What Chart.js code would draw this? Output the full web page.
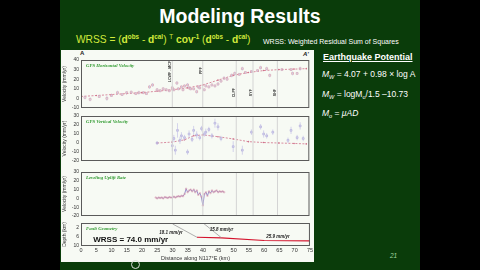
<!DOCTYPE html>
<html>
<head>
<meta charset="utf-8">
<script src="https://cdn.jsdelivr.net/npm/chart.js@4"></script>
<style>
body { margin: 0; background: #000; width: 480px; height: 270px; overflow: hidden; position: relative; font-family: "Liberation Sans", Arial, sans-serif; }
#slide { position: absolute; left: 60px; top: 0; width: 360px; height: 270px; background: #0a3c0a; }
#fig { position: absolute; left: 61px; top: 50px; width: 253px; height: 212px; background: #f7faf4; }
.t { position: absolute; white-space: nowrap; }
canvas { position: absolute; }
sup { font-size: 62%; vertical-align: 4px; }
sub { font-size: 65%; vertical-align: -2px; }
</style>
</head>
<body>
<div id="slide"></div>
<div id="fig"></div>

<div class="t" style="left:0;width:480px;top:5px;text-align:center;color:#fff;font-weight:bold;font-size:19.5px;">Modeling Results</div>
<div class="t" style="left:76px;top:33px;color:#d2ea3c;font-size:10.2px;">WRSS = (<b>d<sup>obs</sup></b> - <b>d<sup>cal</sup></b>) <sup>T</sup> <b>cov<sup>-1</sup></b> (<b>d<sup>obs</sup></b> - <b>d<sup>cal</sup></b>)</div>
<div class="t" style="left:263px;top:38px;color:#fff;font-size:7px;">WRSS: Weighted Residual Sum of Squares</div>

<div class="t" style="left:80px;top:50px;font-size:6px;font-weight:bold;color:#222;">A</div>
<div class="t" style="left:303px;top:51px;font-size:6px;font-weight:bold;font-style:italic;color:#222;">A'</div>

<div class="t" style="left:323px;top:52px;color:#fff;font-size:9px;font-weight:bold;text-decoration:underline;">Earthquake Potential</div>
<div class="t" style="left:322px;top:69px;color:#fff;font-size:8.5px;"><i>M<sub>W</sub></i> = 4.07 + 0.98 × log A</div>
<div class="t" style="left:322px;top:89px;color:#fff;font-size:8.5px;"><i>M<sub>W</sub></i> = logM<sub>o</sub>/1.5 –10.73</div>
<div class="t" style="left:322px;top:108px;color:#fff;font-size:8.5px;"><i>M<sub>o</sub></i> = <i>μAD</i></div>
<div class="t" style="left:390px;top:252px;color:#9fd59f;font-size:6.5px;font-style:italic;">21</div>
<div class="t" style="left:131px;top:260px;width:7px;height:7px;border:1px solid #ddd;border-radius:50%;"></div>

<canvas id="p1" width="252" height="58" style="left:62px;top:55px;"></canvas>
<canvas id="p2" width="252" height="55" style="left:62px;top:111px;"></canvas>
<canvas id="p3" width="252" height="54" style="left:62px;top:167px;"></canvas>
<canvas id="p4" width="252" height="44" style="left:62px;top:218px;"></canvas>

<script>
// GPS horizontal velocity (km along profile, mm/yr)
const gpsHKm = [1.3, 3, 6, 8.5, 10, 12, 13.5, 15, 16.5, 18,
    19, 20.5, 21.5, 22.5, 23.5, 25, 26, 27, 28, 29,
    30, 30.5, 31.5, 32, 33, 33.5, 34, 35, 35.5, 36,
    37, 38, 38.5, 39, 40.5, 41, 42, 43, 44, 45,
    46, 47, 48, 49.5, 50.5, 52, 53, 54, 56, 58,
    59, 61, 62, 66, 69, 69.5, 71, 72];
const gpsHVel = [1, -1, 2, 0, 3, 6, 4, 6, 6.5, 5,
    6, 6, 5, 12, 14, 9, 8, 10, 9, 8,
    11, 9, 16, 10, 12, 9, 13, 14, 11, 10,
    10, 7, 12, 11, 9, 13, 12, 14, 13, 15,
    18, 21, 20, 24, 26, 25, 31, 27, 28, 29,
    32, 31, 24, 30, 30, 26, 26, 31];
const gpsHErr = [2, 2, 1.5, 2.5, 1.5, 2, 1.5, 1.5, 1.5, 1.5,
    2, 1.5, 1.5, 2, 2, 1.5, 1.5, 1.5, 1.5, 1.5,
    2, 1.5, 2, 1.5, 1.5, 1.5, 1.5, 2, 1.5, 1.5,
    1.5, 2, 1.5, 1.5, 1.5, 1.5, 1.5, 1.5, 1.5, 2,
    1.5, 2, 1.5, 2, 2, 1.5, 2, 1.5, 1.5, 1.5,
    2, 2, 2, 1.5, 1.5, 2, 1.5, 2];
const hModelKm = [0, 5, 10, 15, 20, 25, 30, 35, 40, 45, 50, 55, 60, 65, 70, 74];
const hModelVel = [2, 3, 4, 5, 6, 7.5, 9, 11, 14, 19, 24, 27, 29, 30, 30.5, 31];

// GPS vertical velocity
const gpsVKm = [25, 30, 30.5, 31, 31.7, 32.5, 33, 34, 35, 35.5,
    36.5, 37, 38, 39, 39.6, 40.5, 41, 42, 43, 44,
    45, 46, 50, 53, 56, 59, 60, 61, 63, 68,
    69, 71, 72, 73];
const gpsVVel = [0, -3, 5, -8, 14, 3, 8, 6, -10, 10,
    4, 14, 9, 6, 16, 10, 12, 15, 8, 22,
    18, 5, -4, -8, 12, 18, 10, 8, 12, 3,
    14, 6, 19, 5];
const gpsVErr = [2, 6, 4, 5, 8, 4, 4, 3, 3, 4,
    3, 5, 4, 3, 3, 3, 4, 3, 3, 5,
    4, 3, 6, 5, 3, 3, 4, 3, 3, 3,
    4, 3, 4, 3];
const vModelKm = [25, 30, 34, 37, 40, 45, 50, 55, 60, 65, 70, 74];
const vModelVel = [0, 1, 3.5, 8, 9, 7, 4.5, 1.5, 0.5, 0, -0.5, -1];

// Leveling uplift rate
const levelKm = [24.5, 25, 25.5, 26, 26.5, 27, 27.5, 28, 28.5, 29,
    29.5, 30, 30.5, 31, 31.5, 32, 32.5, 33, 33.5, 34,
    34.5, 35, 35.5, 36, 36.5, 37, 37.5, 38, 38.5, 39,
    39.5, 40, 40.5, 41, 41.5, 42, 42.5, 43, 43.5, 44,
    44.5, 45, 45.5, 46, 46.5, 47];
const levelRate = [1, 0, 1, 0.5, 1, 0, 1.5, 1, 0.5, 1.5,
    1, 1, 2, 1, 2, 2.5, 2, 3, 2.5, 5,
    11, 7, 9, 10, 8, 10, 7, 9, 4, 6,
    2, -8, 5, 7, 3, 8, 6, 9, 7, 8,
    9, 7, 8, 7.5, 8, 7];

// Fault geometry (depth km)
const ramp1Km = [30, 38];
const ramp1Depth = [0.4, 6.2];
const ramp2Km = [40, 46];
const ramp2Depth = [0, 6.4];
const decolKm = [38, 46, 60, 75];
const decolDepth = [6.2, 6.5, 7.6, 7.8];
const slipKm = [29.5, 46, 64.5];
const slipDepth = [4.2, 2.9, 5.8];
const slipText = ["18.1 mm/yr", "15.8 mm/yr", "25.9 mm/yr"];

// faults crossing the profile
const faultKm = [30, 40, 51, 56.5, 64.5];
const faultNames = ["LCWF - MCF", "PPF", "CLPF", "SYF", "SHF"];
const faultLabelVel = [28, 29, 6, 6, 6];

function pairs(xs, ys) {
    return xs.map((x, i) => ({ x: x, y: ys[i] }));
}

function errorSegments(xs, ys, es) {
    let pts = [];
    xs.forEach((x, i) => {
        pts.push({ x: x, y: ys[i] - es[i] });
        pts.push({ x: x, y: ys[i] + es[i] });
        pts.push({ x: x, y: null });
    });
    return pts;
}

function faultLines(lo, hi) {
    let pts = [];
    faultKm.forEach(k => {
        pts.push({ x: k, y: lo });
        pts.push({ x: k, y: hi });
        pts.push({ x: k, y: null });
    });
    return pts;
}

// frame, panel title and text notes
const panelDeco = {
    id: "panelDeco",
    afterDatasetsDraw(chart, args, opts) {
        const { ctx, chartArea, scales } = chart;
        ctx.save();
        ctx.strokeStyle = "#5a5a5a";
        ctx.lineWidth = 1;
        ctx.strokeRect(chartArea.left + 0.5, chartArea.top + 0.5, chartArea.width - 1, chartArea.height - 1);
        if (opts.title) {
            ctx.font = 'italic bold 4.8px "Liberation Serif"';
            ctx.fillStyle = "#2f9a2f";
            ctx.textBaseline = "middle";
            ctx.fillText(opts.title, chartArea.left + 5, chartArea.top + 6);
        }
        (opts.notes || []).forEach(n => {
            const x = scales.x.getPixelForValue(n.x) + (n.dx || 0);
            const y = scales.y.getPixelForValue(n.y);
            ctx.save();
            ctx.translate(x, y);
            if (n.rot) ctx.rotate(n.rot);
            ctx.font = n.font;
            ctx.fillStyle = n.color || "#222";
            ctx.textAlign = "center";
            ctx.textBaseline = "middle";
            ctx.fillText(n.text, 0, 0);
            ctx.restore();
        });
        ctx.restore();
    }
};

const tickFont = { size: 5, family: "Liberation Sans" };

function yAxis(min, max, step, title, reverse) {
    return {
        min: min, max: max, reverse: !!reverse,
        afterFit: s => { s.width = 19; },
        grid: { display: false, tickLength: 0 },
        border: { display: false },
        ticks: { stepSize: step, font: tickFont, color: "#333", padding: 2 },
        title: { display: true, text: title, font: { size: 5, family: "Liberation Sans" }, color: "#333", padding: 0 }
    };
}

function xAxis(show) {
    return {
        type: "linear", min: 0, max: 75, display: show,
        afterFit: s => { if (show) s.height = 16; },
        grid: { display: false, tickLength: 0 },
        border: { display: false },
        ticks: { stepSize: 5, font: { size: 5.5, family: "Liberation Sans" }, color: "#333", padding: 1, maxRotation: 0 },
        title: { display: true, text: "Distance along N117°E (km)", font: { size: 5.5, family: "Liberation Sans" }, color: "#333", padding: 0 }
    };
}

function baseOptions(ymin, ymax, ystep, ytitle, title, notes, showX, reverse) {
    return {
        responsive: false,
        animation: false,
        layout: { padding: { top: 4, bottom: showX ? 0 : 4, right: 4, left: 0 } },
        plugins: {
            legend: { display: false },
            tooltip: { enabled: false },
            panelDeco: { title: title, notes: notes }
        },
        scales: {
            x: xAxis(showX),
            y: yAxis(ymin, ymax, ystep, ytitle, reverse)
        }
    };
}

const faultDataset = (lo, hi) => ({
    data: faultLines(lo, hi), showLine: true, pointRadius: 0,
    borderColor: "#d4d4d4", borderWidth: 1
});

// Panel 1
let faultNotes = faultKm.map((k, i) => ({
    x: k, y: faultLabelVel[i], dx: -2, rot: -Math.PI / 2,
    text: faultNames[i], font: 'bold 3.6px "Liberation Sans"', color: "#333"
}));
new Chart(document.getElementById("p1").getContext("2d"), {
    type: "scatter",
    data: {
        datasets: [
            faultDataset(-10, 40),
            { data: errorSegments(gpsHKm, gpsHVel, gpsHErr), showLine: true, pointRadius: 0, borderColor: "#c9c3dc", borderWidth: 0.7 },
            { data: pairs(gpsHKm, gpsHVel), pointStyle: "rect", pointRadius: 1.3, borderColor: "#d895a8", backgroundColor: "rgba(255,255,255,0)", borderWidth: 0.7 },
            { data: pairs(hModelKm, hModelVel), showLine: true, pointRadius: 0.8, pointBackgroundColor: "#d0708a", pointBorderWidth: 0, borderColor: "#d0708a", borderWidth: 0.8, borderDash: [2, 1.5] }
        ]
    },
    options: baseOptions(-10, 40, 10, "Velocity (mm/yr)", "GPS Horizontal Velocity", faultNotes, false),
    plugins: [panelDeco]
});

// Panel 2
new Chart(document.getElementById("p2").getContext("2d"), {
    type: "scatter",
    data: {
        datasets: [
            faultDataset(-20, 30),
            { data: errorSegments(gpsVKm, gpsVVel, gpsVErr), showLine: true, pointRadius: 0, borderColor: "#c4c2e6", borderWidth: 0.7 },
            { data: pairs(gpsVKm, gpsVVel), pointStyle: "rect", pointRadius: 1.2, borderColor: "#a9a2d8", backgroundColor: "rgba(255,255,255,0)", borderWidth: 0.7 },
            { data: pairs(vModelKm, vModelVel), showLine: true, pointRadius: 0.8, pointBackgroundColor: "#d0708a", pointBorderWidth: 0, borderColor: "#d0708a", borderWidth: 0.8, borderDash: [2, 1.5] }
        ]
    },
    options: baseOptions(-20, 30, 10, "Velocity (mm/yr)", "GPS Vertical Velocity", [], false),
    plugins: [panelDeco]
});

// Panel 3
new Chart(document.getElementById("p3").getContext("2d"), {
    type: "scatter",
    data: {
        datasets: [
            faultDataset(-20, 30),
            { data: pairs(levelKm, levelRate), showLine: true, pointStyle: "rect", pointRadius: 0.9, borderColor: "#7f72c0", pointBorderColor: "#d895a8", backgroundColor: "rgba(255,255,255,0)", borderWidth: 0.8, pointBorderWidth: 0.5 }
        ]
    },
    options: baseOptions(-20, 30, 10, "Velocity (mm/yr)", "Leveling Uplift Rate", [], false),
    plugins: [panelDeco]
});

// Panel 4
let slipNotes = slipKm.map((k, i) => ({
    x: k, y: slipDepth[i], text: slipText[i], font: 'italic bold 4.5px "Liberation Sans"', color: "#222"
}));
slipNotes.push({ x: 16.3, y: 7.4, text: "WRSS = 74.0 mm/yr", font: 'bold 8px "Liberation Sans"', color: "#111" });
new Chart(document.getElementById("p4").getContext("2d"), {
    type: "scatter",
    data: {
        datasets: [
            { data: pairs(ramp1Km, ramp1Depth), showLine: true, pointRadius: 0, borderColor: "#9a9a9a", borderWidth: 0.8 },
            { data: pairs(ramp2Km, ramp2Depth), showLine: true, pointRadius: 0, borderColor: "#9a9a9a", borderWidth: 0.8 },
            { data: pairs(decolKm, decolDepth), showLine: true, pointRadius: 0, borderColor: "#d4142e", borderWidth: 1.2 }
        ]
    },
    options: baseOptions(0, 10, 2, "Depth (km)", "Fault Geometry", slipNotes, true, true),
    plugins: [panelDeco]
});
</script>
</body>
</html>
